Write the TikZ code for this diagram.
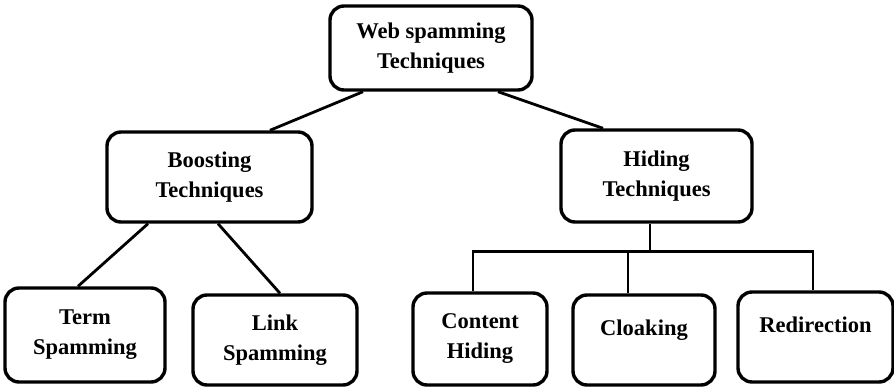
\documentclass[tikz,border=0pt]{standalone}
\usepackage{fontspec}
\setmainfont{Liberation Serif}
\usetikzlibrary{calc}
\begin{document}
\begin{tikzpicture}[x=1pt,y=-1pt,
  box/.style={draw=black,line width=3.4pt,rounded corners=14pt,align=center,
    font=\fontsize{22.5}{30}\selectfont\bfseries,inner sep=0pt},
  conn/.style={draw=black,line width=2.8pt}]
\useasboundingbox (0,0) rectangle (894,388);
\node[box,minimum width=202pt,minimum height=84pt] (root) at (431,48) {Web spamming\\Techniques};
\node[box,minimum width=205pt,minimum height=90pt] (boost) at (209.5,177) {Boosting\\Techniques};
\node[box,minimum width=191pt,minimum height=92pt] (hide) at (656.5,176) {Hiding\\Techniques};
\node[box,minimum width=160pt,minimum height=94pt] (term) at (85,335) {Term\\Spamming};
\node[box,minimum width=164pt,minimum height=90pt] (link) at (275,340) {Link\\Spamming};
\node[box,minimum width=134pt,minimum height=92pt] (content) at (480,339) {Content\\Hiding};
\node[box,minimum width=142pt,minimum height=90pt] (cloak) at (644,340) {Cloaking\\[-6pt]\mbox{}};
\node[box,minimum width=155pt,minimum height=90pt] (redir) at (815.5,337) {Redirection\\[-6pt]\mbox{}};
% connectors
\draw[conn] ($(root.south)+(-68,0)$) -- ($(boost.north)+(60.5,0)$);
\draw[conn] ($(root.south)+(67,0)$) -- ($(hide.north)+(-53.5,0)$);
\draw[conn] ($(boost.south)+(-61.5,0)$) -- ($(term.north)+(-7,0)$);
\draw[conn] ($(boost.south)+(8.5,0)$) -- ($(link.north)+(5,0)$);
\coordinate (hs) at ($(hide.south)+(-6.5,0)$);
\coordinate (bj) at ($(hs)+(0,28)$);
\coordinate (cn) at ($(content.north)+(-7,0)$);
\coordinate (cln) at ($(cloak.north)+(-16,0)$);
\coordinate (rn) at ($(redir.north)+(-2.5,0)$);
\draw[conn] (hs) -- (bj);
\draw[conn] (cn) |- (bj) -| (rn);
\draw[conn] (cln) -- (cln |- bj);
\end{tikzpicture}
\end{document}
